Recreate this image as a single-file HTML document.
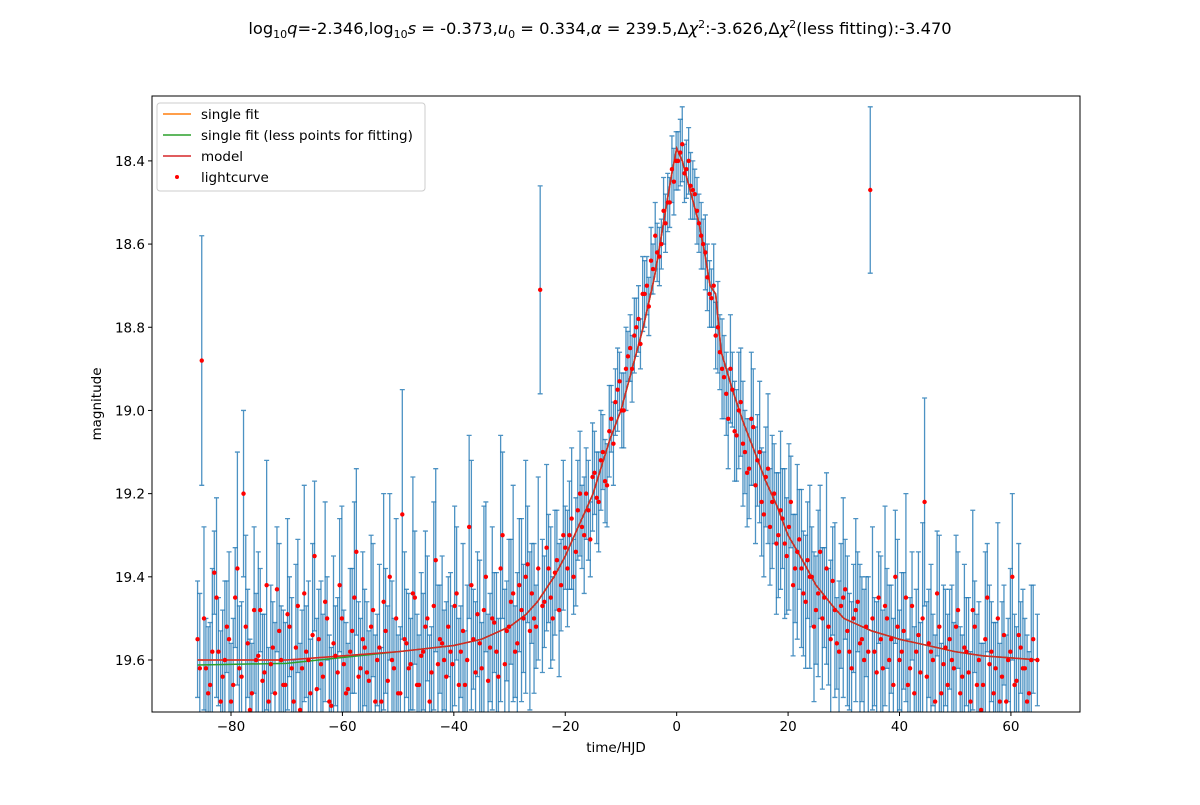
<!DOCTYPE html>
<html><head><meta charset="utf-8"><style>
body{margin:0;background:#fff}
svg text{font-family:"DejaVu Sans","Liberation Sans",sans-serif;fill:#000}
</style></head><body>
<svg id="chart" width="1200" height="800" viewBox="0 0 1200 800" xmlns="http://www.w3.org/2000/svg">
<rect x="0" y="0" width="1200" height="800" fill="#fff"/>
<text x="600" y="34" text-anchor="middle" font-size="16.3">log<tspan font-size="11" dy="4">10</tspan><tspan dy="-4" font-style="italic">q</tspan>=-2.346,log<tspan font-size="11" dy="4">10</tspan><tspan dy="-4" font-style="italic">s</tspan> = -0.373,<tspan font-style="italic">u</tspan><tspan font-size="11" dy="4">0</tspan><tspan dy="-4"> = 0.334,</tspan><tspan font-style="italic">α</tspan> = 239.5,Δ<tspan font-style="italic">χ</tspan><tspan font-size="11" dy="-6">2</tspan><tspan dy="6">:-3.626,Δ</tspan><tspan font-style="italic">χ</tspan><tspan font-size="11" dy="-6">2</tspan><tspan dy="6">(less fitting):-3.470</tspan></text>
<defs><clipPath id="plotclip"><rect x="152" y="96" width="928" height="616"/></clipPath></defs>
<g id="errs" clip-path="url(#plotclip)"></g>
<g id="lines" clip-path="url(#plotclip)"></g>
<g id="pts" clip-path="url(#plotclip)"></g>
<rect x="152" y="96" width="928" height="616" fill="none" stroke="#000" stroke-width="1"/>
<g id="axes"></g>
<text x="616" y="752" text-anchor="middle" font-size="13.5">time/HJD</text>
<text transform="translate(101,404) rotate(-90)" text-anchor="middle" font-size="13.5">magnitude</text>
<g>
<rect x="157" y="103" width="268" height="88" rx="3" fill="#fff" fill-opacity="0.8" stroke="#ccc"/>
<line x1="163" y1="114" x2="191" y2="114" stroke="#ff7f0e" stroke-width="1.5"/>
<text x="201" y="119" font-size="13.5">single fit</text>
<line x1="163" y1="135" x2="191" y2="135" stroke="#2ca02c" stroke-width="1.5"/>
<text x="201" y="140" font-size="13.5">single fit (less points for fitting)</text>
<line x1="163" y1="156" x2="191" y2="156" stroke="#d62728" stroke-width="1.5"/>
<text x="201" y="161" font-size="13.5">model</text>
<circle cx="177" cy="177" r="2" fill="red"/>
<text x="201" y="182" font-size="13.5">lightcurve</text>
</g>
</svg>
<script>
const xTicks=[-80,-60,-40,-20,0,20,40,60];
const yTicks=[18.4,18.6,18.8,19.0,19.2,19.4,19.6];
const modelT=[-86,-70,-60,-50,-40,-35,-30,-27,-25,-22,-20,-17,-15,-12,-10,-8,-6,-4,-3,-2,-1,0,1,2,3,4,5,6,7,8,10,12,14,16,18,20,23,25,28,30,35,40,45,50,55,60,65];
const modelM=[19.60,19.60,19.59,19.58,19.565,19.55,19.52,19.49,19.46,19.40,19.35,19.26,19.20,19.07,19.00,18.90,18.80,18.68,18.60,18.52,18.44,18.37,18.40,18.45,18.50,18.55,18.62,18.70,18.72,18.86,18.95,19.03,19.10,19.17,19.23,19.30,19.37,19.42,19.47,19.50,19.53,19.55,19.565,19.58,19.59,19.595,19.60];
const greenOffset=[0.012,0.008,0.004,0,0];
const tStart=-86, tStep=0.75;
const tStart2=-85.6;
const mags=[19.55,18.88,19.62,19.66,19.39,19.58,19.64,19.52,19.70,19.45,19.62,19.20,19.56,19.68,19.60,19.48,19.63,19.70,19.57,19.43,
19.60,19.66,19.52,19.70,19.47,19.62,19.58,19.68,19.35,19.55,19.64,19.50,19.71,19.59,19.42,19.61,19.67,19.53,19.34,19.62,
19.57,19.65,19.48,19.60,19.70,19.53,19.40,19.62,19.68,19.25,19.56,19.61,19.45,19.66,19.58,19.50,19.63,19.36,19.55,19.60,
19.52,19.61,19.44,19.58,19.66,19.28,19.55,19.49,19.62,19.40,19.57,19.51,19.64,19.30,19.53,19.46,19.58,19.42,19.50,19.37,
19.44,19.52,18.71,19.46,19.38,19.50,19.36,19.42,19.33,19.30,19.40,19.24,19.28,19.20,19.31,19.15,19.22,19.10,19.18,19.02,
18.98,18.93,19.00,18.87,18.90,18.80,18.84,18.72,18.75,18.66,18.62,18.60,18.55,18.50,18.45,18.40,18.36,18.42,18.46,18.48,
18.55,18.60,18.68,18.73,18.82,18.86,18.92,19.02,18.95,19.06,18.98,19.10,19.14,19.04,19.12,19.22,19.16,19.28,19.20,19.30,
19.26,19.35,19.22,19.38,19.31,19.44,19.36,19.40,19.48,19.34,19.45,19.52,19.41,19.56,19.47,19.43,19.58,19.50,19.46,19.55,
19.52,18.47,19.58,19.45,19.62,19.50,19.55,19.40,19.60,19.53,19.66,19.47,19.58,19.63,19.22,19.56,19.60,19.44,19.68,19.57,
19.55,19.62,19.48,19.64,19.58,19.70,19.52,19.60,19.66,19.45,19.58,19.62,19.70,19.54,19.60,19.40,19.65,19.57,19.62,19.68,19.55,19.60];
const errs=[.14,.30,.12,.15,.10,.13,.16,.11,.14,.12,.15,.20,.13,.12,.16,.10,.14,.13,.11,.15,
.13,.15,.12,.10,.16,.14,.11,.13,.18,.12,.15,.10,.14,.12,.16,.13,.11,.15,.20,.12,
.14,.12,.16,.11,.13,.15,.20,.12,.14,.30,.13,.11,.16,.12,.14,.15,.11,.22,.13,.12,
.12,.14,.16,.11,.13,.22,.12,.15,.11,.18,.13,.12,.14,.20,.12,.15,.11,.16,.13,.14,
.12,.10,.25,.11,.13,.10,.12,.11,.10,.13,.09,.12,.10,.11,.09,.10,.12,.09,.10,.08,
.08,.07,.09,.06,.08,.07,.06,.08,.07,.06,.07,.06,.07,.06,.08,.07,.09,.07,.08,.06,
.07,.06,.08,.07,.08,.09,.10,.12,.09,.11,.13,.10,.12,.14,.11,.13,.12,.14,.12,.15,
.12,.14,.11,.13,.12,.15,.14,.12,.13,.16,.12,.14,.13,.11,.15,.12,.14,.13,.12,.15,
.12,.20,.13,.11,.14,.12,.13,.16,.12,.14,.11,.13,.15,.12,.25,.13,.11,.15,.12,.14,
.12,.11,.14,.10,.13,.12,.11,.14,.10,.13,.12,.11,.14,.12,.10,.20,.13,.11,.12,.10,.13,.11];
const mags2=[19.62,19.50,19.68,19.58,19.45,19.70,19.60,19.55,19.66,19.38,19.64,19.52,19.72,19.48,19.59,19.65,19.42,19.61,19.68,19.53,
19.66,19.49,19.62,19.57,19.72,19.44,19.60,19.54,19.67,19.61,19.46,19.70,19.56,19.63,19.50,19.68,19.58,19.45,19.64,19.55,
19.63,19.52,19.70,19.57,19.46,19.65,19.60,19.50,19.68,19.55,19.62,19.44,19.66,19.59,19.52,19.70,19.47,19.61,19.56,19.64,
19.58,19.47,19.66,19.53,19.60,19.42,19.63,19.56,19.48,19.65,19.50,19.58,19.38,19.61,19.52,19.44,19.56,19.48,19.40,19.53,
19.50,19.38,19.47,19.33,19.45,19.39,19.48,19.30,19.38,19.26,19.34,19.20,19.30,19.24,19.16,19.21,19.12,19.17,19.05,19.08,
18.95,19.00,18.90,18.85,18.82,18.78,18.72,18.70,18.64,18.58,18.63,18.52,18.50,18.42,18.40,18.38,18.43,18.40,18.47,18.52,
18.58,18.62,18.72,18.70,18.80,18.90,18.96,18.90,19.05,19.00,19.08,19.15,19.02,19.18,19.10,19.25,19.14,19.22,19.32,19.24,
19.32,19.28,19.42,19.34,19.38,19.46,19.40,19.52,19.44,19.50,19.38,19.55,19.48,19.58,19.45,19.53,19.62,19.48,19.56,19.60,
19.58,19.50,19.63,19.55,19.47,19.60,19.66,19.52,19.58,19.45,19.62,19.68,19.54,19.50,19.64,19.58,19.70,19.52,19.61,19.66,
19.60,19.52,19.68,19.57,19.63,19.48,19.66,19.72,19.55,19.61,19.68,19.50,19.64,19.70,19.58,19.66,19.54,19.62,19.70,19.60];
const errs2=[.18,.22,.16,.20,.24,.17,.19,.21,.16,.28,.18,.22,.17,.20,.25,.16,.30,.19,.17,.21,
.18,.23,.17,.20,.16,.26,.19,.22,.17,.20,.24,.16,.21,.18,.27,.17,.20,.23,.18,.21,
.17,.22,.16,.20,.26,.18,.19,.24,.16,.21,.18,.28,.17,.20,.23,.16,.25,.19,.21,.18,
.19,.24,.16,.21,.18,.30,.17,.20,.25,.16,.22,.19,.32,.18,.21,.26,.17,.22,.28,.19,
.18,.22,.16,.20,.17,.15,.16,.18,.14,.17,.13,.15,.14,.12,.13,.11,.12,.10,.11,.10,
.10,.09,.10,.08,.09,.08,.09,.07,.08,.08,.07,.08,.07,.08,.07,.08,.07,.08,.07,.08,
.08,.09,.08,.10,.11,.12,.10,.13,.12,.14,.15,.13,.16,.14,.17,.15,.18,.16,.17,.19,
.18,.20,.17,.21,.19,.16,.22,.18,.20,.17,.23,.19,.21,.17,.24,.18,.16,.22,.19,.17,
.18,.22,.17,.20,.24,.18,.16,.21,.19,.25,.17,.16,.20,.23,.18,.21,.16,.22,.19,.17,
.18,.22,.16,.20,.18,.24,.17,.16,.21,.19,.17,.23,.18,.16,.20,.17,.22,.19,.16,.18];

const NS='http://www.w3.org/2000/svg';
const X0=152,X1=1080,Y0=96,Y1=712, XMIN=-94.18,XMAX=72.4, YMIN=18.244,YMAX=19.725;
const sx=t=>X0+(t-XMIN)/(XMAX-XMIN)*(X1-X0);
const sy=m=>Y0+(m-YMIN)/(YMAX-YMIN)*(Y1-Y0);
function mk(tag,attrs,parent){const e=document.createElementNS(NS,tag);for(const k in attrs)e.setAttribute(k,attrs[k]);parent.appendChild(e);return e;}
const axes=document.getElementById('axes');
xTicks.forEach(v=>{const x=sx(v);
 const l=mk('line',{x1:x,x2:x,y1:Y1,y2:Y1+4,stroke:'#000'},axes);
 
 
 const t=mk('text',{x:x,y:Y1+19,'text-anchor':'middle','font-size':'13.5'},axes);t.textContent=String(v).replace('-','−');
 
 });
yTicks.forEach(v=>{const y=sy(v);
 const l=mk('line',{x1:X0-4,x2:X0,y1:y,y2:y,stroke:'#000'},axes);
 
 
 const t=mk('text',{x:X0-7,y:y+5,'text-anchor':'end','font-size':'13.5'},axes);t.textContent=v.toFixed(1);
 
 });
const eg=document.getElementById('errs'),pg=document.getElementById('pts'),lg=document.getElementById('lines');
function drawErr(ms,es,t0){ms.forEach((m,i)=>{const t=t0+i*tStep;const x=sx(t);const e=es[i];
 const b=mk('path',{d:`M${x},${sy(m-e)}V${sy(m+e)}M${x-2.5},${sy(m-e)}h5M${x-2.5},${sy(m+e)}h5`,stroke:'#1f77b4','stroke-width':'1.3','stroke-opacity':'0.8',fill:'none'},eg);
 
 });}
drawErr(mags,errs,tStart);
drawErr(mags2,errs2,tStart2);
function line(arr,off,color,name){let d='';modelT.forEach((t,i)=>{const o=i<off.length?off[i]:0;d+=(i?'L':'M')+sx(t)+','+sy(arr[i]+o);});
 const p=mk('path',{d:d,stroke:color,'stroke-width':'1.5',fill:'none'},lg);
 
 }
line(modelM,[],'#ff7f0e','single-fit-line');
line(modelM,greenOffset,'#2ca02c','single-fit-less-points-line');
line(modelM,[],'#d62728','model-line');
function drawPts(ms,t0){ms.forEach((m,i)=>{const t=t0+i*tStep;
 const c=mk('circle',{cx:sx(t),cy:sy(m),r:2.2,fill:'red'},pg);
 
 });}
drawPts(mags,tStart);
drawPts(mags2,tStart2);
</script>
</body></html>
